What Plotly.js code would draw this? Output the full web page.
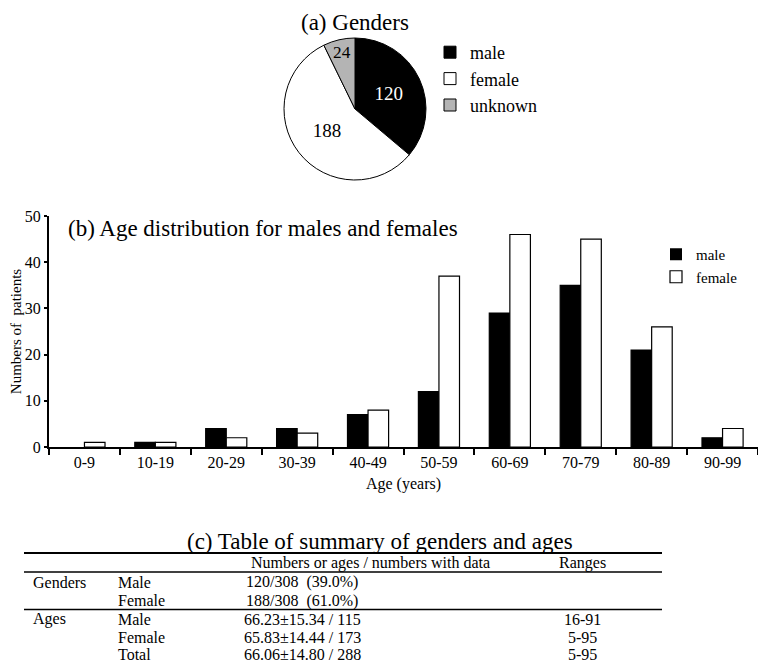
<!DOCTYPE html>
<html>
<head>
<meta charset="utf-8">
<script src="https://cdn.plot.ly/plotly-3.0.1.min.js"></script>
<style>html,body{margin:0;padding:0;background:#fff;}#chart{width:758px;height:665px;}</style>
</head>
<body>
<div id="chart"></div>
<script>
// ---- Data ----
var genderLabels = ['male', 'female', 'unknown'];
var genderCounts = [120, 188, 24];

var ageGroups = ['0-9', '10-19', '20-29', '30-39', '40-49', '50-59', '60-69', '70-79', '80-89', '90-99'];
var maleCounts = [0, 1, 4, 4, 7, 12, 29, 35, 21, 2];
var femaleCounts = [1, 1, 2, 3, 8, 37, 46, 45, 26, 4];

var tableHeader = ['', '', 'Numbers or ages / numbers with data', 'Ranges'];
var tableGroup = ['Genders', '', 'Ages', '', ''];
var tableSub = ['Male', 'Female', 'Male', 'Female', 'Total'];
var tableValue = ['120/308\u00a0\u00a0(39.0%)', '188/308\u00a0\u00a0(61.0%)', '66.23\u00b115.34 / 115', '65.83\u00b114.44 / 173', '66.06\u00b114.80 / 288'];
var tableRange = ['', '', '16-91', '5-95', '5-95'];

// ---- Helpers ----
var W = 758, H = 665;
var FONT = 'Liberation Serif';
function px(x) { return x / W; }
function py(y) { return 1 - y / H; }
function lineWidths(vals) { return vals.map(function (v) { return v > 0 ? 1.2 : 0; }); }

var traces = [
  {
    type: 'pie',
    labels: genderLabels,
    values: genderCounts,
    sort: false,
    direction: 'clockwise',
    rotation: 0,
    marker: { colors: ['#000000', '#ffffff', '#b4b4b4'], line: { color: '#000', width: 1 } },
    textinfo: 'value',
    textposition: 'inside',
    insidetextorientation: 'horizontal',
    textfont: { family: FONT, size: 19, color: ['#ffffff', '#000000', '#000000'] },
    domain: { x: [px(284), px(426)], y: [py(180), py(38)] },
    legend: 'legend2',
    hoverinfo: 'label+value'
  },
  {
    type: 'bar',
    name: 'male',
    x: ageGroups,
    y: maleCounts,
    marker: { color: '#000', line: { color: '#000', width: lineWidths(maleCounts) } }
  },
  {
    type: 'bar',
    name: 'female',
    x: ageGroups,
    y: femaleCounts,
    marker: { color: '#fff', line: { color: '#000', width: lineWidths(femaleCounts) } }
  }
];

var annotations = [
  { text: '(a) Genders', x: px(355), y: py(23), xref: 'paper', yref: 'paper', showarrow: false, xanchor: 'center', yanchor: 'middle', font: { family: FONT, size: 23, color: '#000' } },
  { text: '(b) Age distribution for males and females', x: px(66), y: py(228), xref: 'paper', yref: 'paper', showarrow: false, xanchor: 'left', yanchor: 'middle', font: { family: FONT, size: 23, color: '#000' } },
  { text: '(c) Table of summary of genders and ages', x: px(380), y: py(541), xref: 'paper', yref: 'paper', showarrow: false, xanchor: 'center', yanchor: 'middle', font: { family: FONT, size: 23, color: '#000' } }
];

// table header
var headerX = [32, 117, 370, 582];
var headerAnchor = ['left', 'left', 'center', 'center'];
for (var i = 0; i < tableHeader.length; i++) {
  if (!tableHeader[i]) continue;
  annotations.push({ text: tableHeader[i], x: px(headerX[i]), y: py(563), xref: 'paper', yref: 'paper', showarrow: false, borderpad: 0, xanchor: headerAnchor[i], yanchor: 'middle', font: { family: FONT, size: 16, color: '#000' } });
}
var rowY = [582, 600.5, 619, 637, 654.5];
for (var r = 0; r < tableSub.length; r++) {
  var cells = [tableGroup[r], tableSub[r], tableValue[r], tableRange[r]];
  var cx = [32, 117, 302, 582];
  var anc = ['left', 'left', 'center', 'center'];
  for (var c = 0; c < cells.length; c++) {
    if (!cells[c]) continue;
    annotations.push({ text: cells[c], x: px(cx[c]), y: py(rowY[r]), xref: 'paper', yref: 'paper', showarrow: false, borderpad: 0, xanchor: anc[c], yanchor: 'middle', font: { family: FONT, size: 16, color: '#000' } });
  }
}

var shapes = [
  { type: 'line', xref: 'paper', yref: 'paper', x0: px(24), x1: px(662), y0: py(553), y1: py(553), line: { color: '#000', width: 2 } },
  { type: 'line', xref: 'paper', yref: 'paper', x0: px(24), x1: px(662), y0: py(572), y1: py(572), line: { color: '#000', width: 1.5 } },
  { type: 'line', xref: 'paper', yref: 'paper', x0: px(24), x1: px(662), y0: py(609.5), y1: py(609.5), line: { color: '#000', width: 1.5 } }
];

var layout = {
  width: W, height: H,
  margin: { l: 0, r: 0, t: 0, b: 0 },
  paper_bgcolor: '#fff', plot_bgcolor: '#fff',
  font: { family: FONT, color: '#000' },
  barmode: 'group',
  bargap: 0.42,
  bargroupgap: 0,
  xaxis: {
    domain: [px(49), 1],
    type: 'category',
    range: [-0.5, 9.5],
    showline: true, linecolor: '#000', linewidth: 2,
    ticks: 'outside', tickson: 'boundaries', ticklen: 6, tickwidth: 2, tickcolor: '#000',
    showgrid: false, zeroline: false,
    tickfont: { family: FONT, size: 16, color: '#000' },
    title: { text: 'Age (years)', font: { family: FONT, size: 16, color: '#000' }, standoff: 8 },
    automargin: false
  },
  yaxis: {
    domain: [py(447), py(216)],
    range: [0, 50],
    dtick: 10,
    showline: true, linecolor: '#000', linewidth: 2,
    ticks: 'outside', ticklen: 3, tickwidth: 2, tickcolor: '#000',
    showgrid: false, zeroline: false,
    tickfont: { family: FONT, size: 16, color: '#000' },
    title: { text: 'Numbers of&nbsp;&nbsp;patients', font: { family: FONT, size: 15, color: '#000' }, standoff: 0 },
    automargin: false
  },
  legend: {
    x: px(656), y: py(238), xanchor: 'left', yanchor: 'top',
    bgcolor: 'rgba(0,0,0,0)',
    font: { family: FONT, size: 15, color: '#000' },
    traceorder: 'normal'
  },
  legend2: {
    x: px(430), y: py(34), xanchor: 'left', yanchor: 'top',
    bgcolor: 'rgba(0,0,0,0)',
    font: { family: FONT, size: 18, color: '#000' }
  },
  annotations: annotations,
  shapes: shapes
};

Plotly.newPlot('chart', traces, layout, { displayModeBar: false, staticPlot: true });
</script>
</body>
</html>
